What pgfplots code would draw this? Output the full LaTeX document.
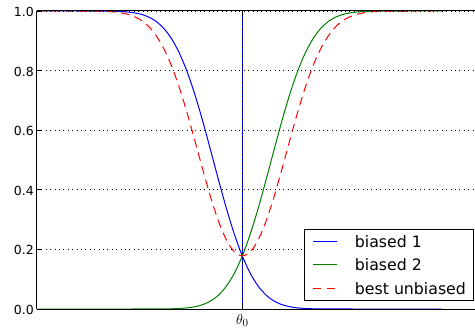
\documentclass[border=0pt]{standalone}
\usepackage{fontspec}
\setmainfont{DejaVu Sans}
\usepackage{pgfplots}
\pgfplotsset{compat=1.18}
\definecolor{mplgreen}{rgb}{0,0.5,0}
\begin{document}
\begin{tikzpicture}
\begin{axis}[
  at={(0,0)}, anchor=south west,
  scale only axis, width=438bp, height=298bp,
  xmin=-6.517, xmax=7.388, ymin=0, ymax=1,
  axis y line*=left,
  axis line style={black, line width=1bp, -},
  y axis line style={-},
  axis on top,
  tick align=inside,
  major tick length=4.5bp,
  tick style={black, line width=0.8bp},
  xtick={0}, xticklabels={$\theta_0$},
  ytick={0,0.2,0.4,0.6,0.8,1.0},
  /pgf/number format/assume math mode=true,
  yticklabel={\pgfmathprintnumber[fixed,fixed zerofill,precision=1]{\tick}},
  ticklabel style={font=\fontsize{12.5bp}{15bp}\selectfont},
  yticklabel style={inner sep=0pt, xshift=-3bp, yshift=-1bp},
  xticklabel style={font=\fontsize{15bp}{17bp}\selectfont, yshift=-2bp},
  ymajorgrids,
  major grid style={black, line width=0.8bp, dash pattern=on 1bp off 3.4bp},
  legend cell align=left,
  legend style={
    at={(1,0)}, anchor=south east, xshift=-1bp, yshift=8bp,
    draw=black, line width=0.8bp, fill=white,
    inner xsep=7.7bp, inner ysep=6.5bp,
    font=\fontsize{15.75bp}{18bp}\selectfont,
    row sep=11.3bp, column sep=17.6bp,
    nodes={inner sep=0pt, text height=12bp, text depth=0bp},
  },
  legend image code/.code={\draw[#1] (0bp,0bp) -- (24bp,0bp);},
]
\addplot[blue, line width=1bp, forget plot] coordinates {(0,0) (0,1)};
\addplot[black, line width=1bp, dash pattern=on 1.5bp off 3bp, forget plot] coordinates {(0,0) (0,1)};
\addplot[blue, line width=1bp, smooth] coordinates {
(-6.517,1) (-6,1) (-5.5,1) (-5,0.99998) (-4.75,0.99994) (-4.5,0.99983) (-4.25,0.99956) (-4,0.99895) (-3.75,0.99765) (-3.5,0.99502) (-3.25,0.99002) (-3,0.98110) (-2.75,0.96615) (-2.5,0.94260) (-2.25,0.90775) (-2,0.85927) (-1.75,0.79589) (-1.5,0.71803) (-1.25,0.62817) (-1,0.53069) (-0.75,0.43133) (-0.5,0.33614) (-0.25,0.25047) (0,0.17800) (0.25,0.12040) (0.5,0.07737) (0.75,0.04716) (1,0.02724) (1.25,0.01489) (1.5,0.00770) (1.75,0.00376) (2,0.00173) (2.25,0.00075) (2.5,0.00031) (2.75,0.00012) (3,0.00004) (3.5,0) (4,0) (5,0) (6,0) (6.34,0)
};
\addlegendentry{biased 1}
\addplot[mplgreen, line width=1bp, smooth] coordinates {
(-6.517,0) (-6,0) (-5,0) (-4,0) (-3.5,0) (-3,0.00004) (-2.75,0.00012) (-2.5,0.00031) (-2.25,0.00075) (-2,0.00173) (-1.75,0.00376) (-1.5,0.00770) (-1.25,0.01489) (-1,0.02724) (-0.75,0.04716) (-0.5,0.07737) (-0.25,0.12040) (0,0.17800) (0.25,0.25047) (0.5,0.33614) (0.75,0.43133) (1,0.53069) (1.25,0.62817) (1.5,0.71803) (1.75,0.79589) (2,0.85927) (2.25,0.90775) (2.5,0.94260) (2.75,0.96615) (3,0.98110) (3.25,0.99002) (3.5,0.99502) (3.75,0.99765) (4,0.99895) (4.25,0.99956) (4.5,0.99983) (4.75,0.99994) (5,0.99998) (5.5,1) (6,1) (6.34,1)
};
\addlegendentry{biased 2}
\addplot[red, line width=1bp, smooth, dash pattern=on 8.5bp off 5.5bp] coordinates {
(-6.517,1) (-6,1) (-5.5,1) (-5,0.99987) (-4.75,0.9997) (-4.5,0.9992) (-4.25,0.9982) (-4,0.9960) (-3.75,0.9919) (-3.5,0.9843) (-3.25,0.9715) (-3,0.9508) (-2.75,0.9197) (-2.5,0.8757) (-2.25,0.8169) (-2,0.7435) (-1.75,0.6575) (-1.5,0.5630) (-1.25,0.4661) (-1,0.3738) (-0.75,0.2933) (-0.5,0.2309) (-0.25,0.1915) (0,0.1780) (0.25,0.1915) (0.5,0.2309) (0.75,0.2933) (1,0.3738) (1.25,0.4661) (1.5,0.5630) (1.75,0.6575) (2,0.7435) (2.25,0.8169) (2.5,0.8757) (2.75,0.9197) (3,0.9508) (3.25,0.9715) (3.5,0.9843) (3.75,0.9919) (4,0.9960) (4.25,0.9982) (4.5,0.9992) (4.75,0.9997) (5,0.99987) (5.5,1) (6,1) (6.34,1)
};
\addlegendentry{best unbiased}
\end{axis}
\pgfresetboundingbox
\path[use as bounding box] (-37bp,-20bp) rectangle (438bp,309bp);
\end{tikzpicture}
\end{document}
